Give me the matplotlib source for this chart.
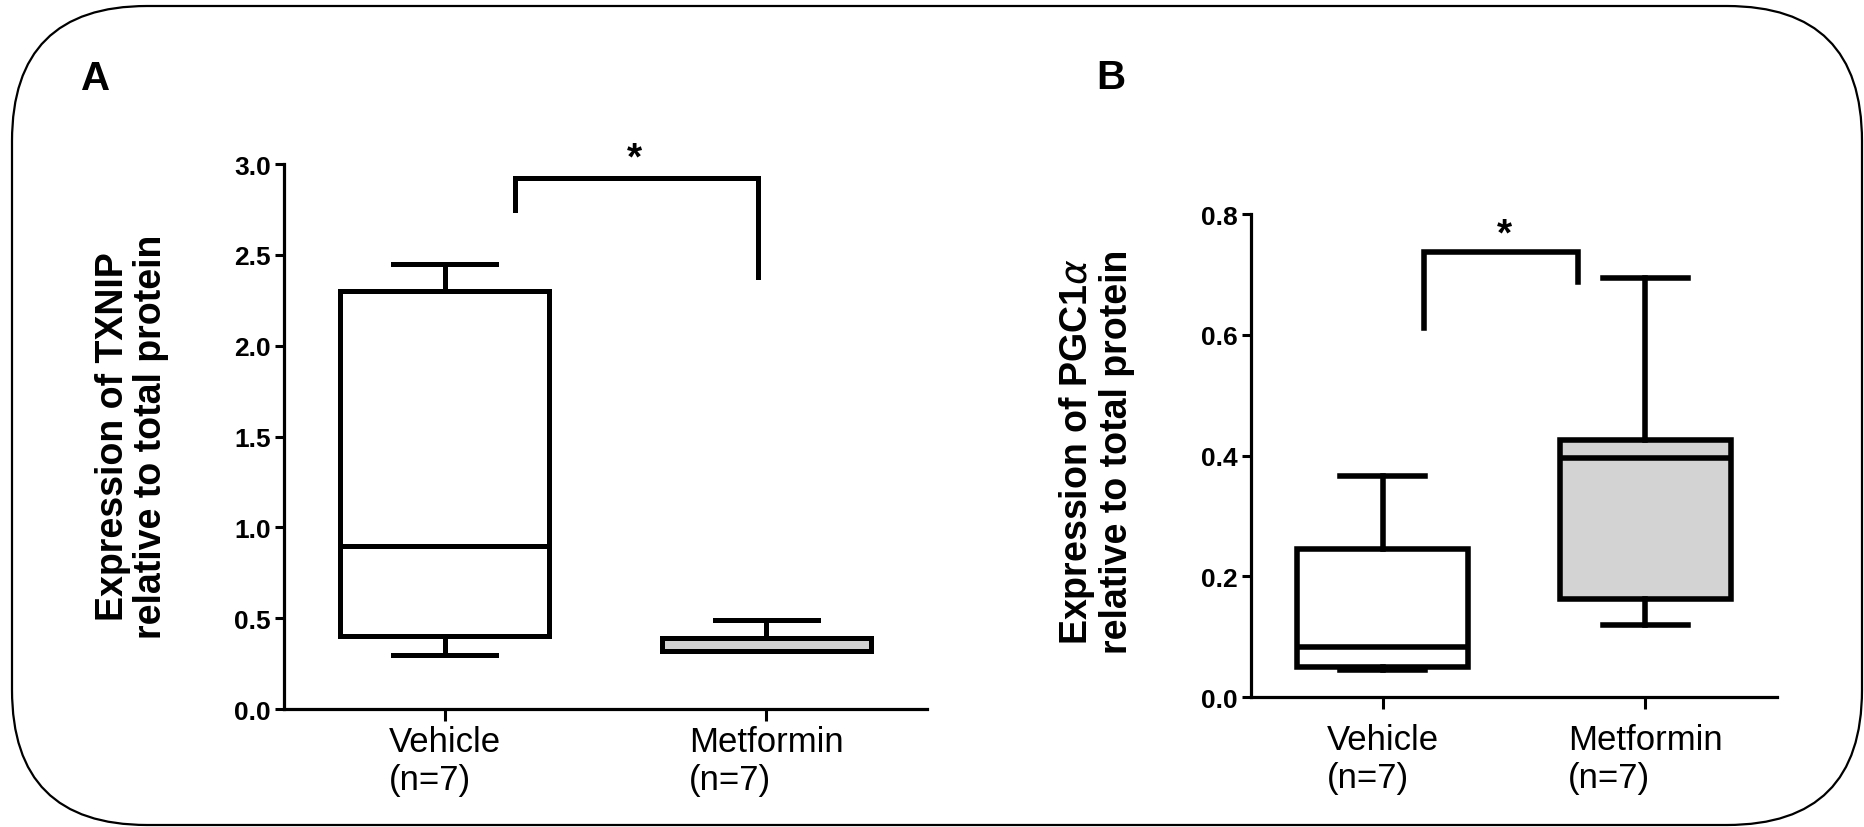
import matplotlib
matplotlib.use("Agg")
import matplotlib.pyplot as plt
from matplotlib.patches import FancyBboxPatch
from matplotlib.transforms import IdentityTransform

plt.rcParams['font.family'] = ['Liberation Sans', 'DejaVu Sans']
plt.rcParams['mathtext.fontset'] = 'dejavusans'

# group labels
groups = ['Vehicle\n(n=7)', 'Metformin\n(n=7)']

# TXNIP box summaries (min, q1, median, q3, max)
txnip_lo = [0.30, 0.32]
txnip_q1 = [0.40, 0.32]
txnip_med = [0.90, 0.32]
txnip_q3 = [2.30, 0.39]
txnip_hi = [2.45, 0.49]

# PGC1a box summaries
pgc_lo = [0.045, 0.12]
pgc_q1 = [0.050, 0.162]
pgc_med = [0.083, 0.396]
pgc_q3 = [0.245, 0.426]
pgc_hi = [0.367, 0.695]

fills = ['white', '#d3d3d3']

txnip_ticks = [0.0, 0.5, 1.0, 1.5, 2.0, 2.5, 3.0]
pgc_ticks = [0.0, 0.2, 0.4, 0.6, 0.8]


def make_stats(lo, q1, med, q3, hi):
    return [dict(whislo=a, q1=b, med=c, q3=d, whishi=e, fliers=[])
            for a, b, c, d, e in zip(lo, q1, med, q3, hi)]


def draw_panel(ax, stats, ticks, lw, bracket, star, xtick_pad):
    bp = ax.bxp(stats, positions=[0, 1], widths=0.65, capwidths=0.32,
                patch_artist=True, showfliers=False,
                boxprops=dict(linewidth=lw, edgecolor='black'),
                whiskerprops=dict(linewidth=lw, color='black'),
                capprops=dict(linewidth=lw, color='black'),
                medianprops=dict(linewidth=lw, color='black', solid_capstyle='butt'))
    for patch, c in zip(bp['boxes'], fills):
        patch.set_facecolor(c)
        patch.set_joinstyle('miter')

    ax.set_xlim(-0.5, 1.5)
    ax.set_ylim(ticks[0], ticks[-1])
    ax.set_yticks(ticks)
    ax.set_yticklabels([f'{t:.1f}' for t in ticks], fontweight='bold', fontsize=19)
    ax.set_xticks([0, 1])
    ax.set_xticklabels(groups, fontsize=25, multialignment='left')
    for s in ['top', 'right']:
        ax.spines[s].set_visible(False)
    for s in ['left', 'bottom']:
        ax.spines[s].set_linewidth(2.3)
    ax.tick_params(axis='y', length=6.5, width=2.2, pad=3)
    ax.tick_params(axis='x', length=8.5, width=2.2, pad=xtick_pad)

    # significance bracket
    (x0, y0), (x0b, ytop), (x1, y1) = bracket
    ax.plot([x0, x0, x1, x1], [y0, ytop, ytop, y1], color='black',
            linewidth=lw, clip_on=False, solid_joinstyle='miter')
    ax.text(star[0], star[1], '*', ha='center', va='center',
            fontsize=28, fontweight='bold', clip_on=False)


fig = plt.figure(figsize=(18.65, 8.28), dpi=100)

# rounded frame around both panels
frame = FancyBboxPatch((12, 2), 1850, 819,
                       boxstyle='round,pad=0,rounding_size=135',
                       transform=IdentityTransform(), facecolor='none',
                       edgecolor='black', linewidth=1.6)
fig.add_artist(frame)

ax1 = fig.add_axes([0.1523, 0.1425, 0.3447, 0.6582])
draw_panel(ax1, make_stats(txnip_lo, txnip_q1, txnip_med, txnip_q3, txnip_hi),
           txnip_ticks, 3.6,
           bracket=((0.22, 2.745), (0.22, 2.925), (0.976, 2.38)),
           star=(0.59, 3.03), xtick_pad=3)

ax2 = fig.add_axes([0.6708, 0.157, 0.2820, 0.583])
draw_panel(ax2, make_stats(pgc_lo, pgc_q1, pgc_med, pgc_q3, pgc_hi),
           pgc_ticks, 4.0,
           bracket=((0.157, 0.612), (0.157, 0.737), (0.742, 0.687)),
           star=(0.465, 0.766), xtick_pad=10)

# axis titles
fig.text(132 / 1865, 1 - 437 / 828, 'Expression of TXNIP\nrelative to total protein',
         rotation=90, ha='center', va='center', fontsize=27, fontweight='bold',
         multialignment='center', linespacing=1.1)
fig.text(1096 / 1865, 1 - 452 / 828, 'Expression of PGC1$\\alpha$\nrelative to total protein',
         rotation=90, ha='center', va='center', fontsize=27, fontweight='bold',
         multialignment='center', linespacing=1.1)

# panel letters
fig.text(96 / 1865, 1 - 79 / 828, 'A', ha='center', va='center', fontsize=29, fontweight='bold')
fig.text(1111 / 1865, 1 - 78 / 828, 'B', ha='center', va='center', fontsize=29, fontweight='bold')

fig.savefig('out.png', dpi=100)
